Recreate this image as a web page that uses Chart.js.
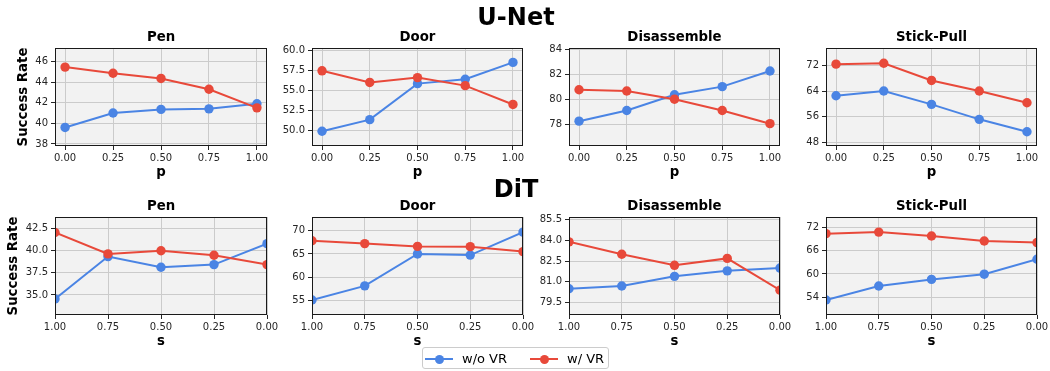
<!DOCTYPE html>
<html>
<head>
<meta charset="utf-8">
<script src="https://cdn.jsdelivr.net/npm/chart.js@4.4.1/dist/chart.umd.min.js"></script>
<style>
  html, body { margin: 0; padding: 0; background: #ffffff; }
  body { width: 1050px; height: 371px; position: relative; overflow: hidden; font-family: "DejaVu Sans", sans-serif; color: #000; }
  canvas { position: absolute; }
  .lbl { position: absolute; white-space: nowrap; transform: translate(-50%, -50%); line-height: 1; }
  .big { font-weight: bold; font-size: 24px; }
  .sub { font-weight: bold; font-size: 13.3px; }
  .ax { font-weight: bold; font-size: 13.3px; }
  .rot { transform: translate(-50%, -50%) rotate(-90deg); }
  #legend { position: absolute; left: 422px; top: 347px; width: 187px; height: 22px; border: 1px solid #cccccc; border-radius: 3px; box-sizing: border-box; background: #fff; }
  .li { position: absolute; top: 0; height: 22px; font-size: 13px; line-height: 22px; }
  .lline { position: absolute; top: 10px; width: 28px; height: 2px; }
  .ldot { position: absolute; top: 6.5px; width: 9px; height: 9px; border-radius: 50%; }
</style>
</head>
<body>
<script>
// ---------------- data ----------------
const tasks = ['Pen', 'Door', 'Disassemble', 'Stick-Pull'];
const seriesNames = ['w/o VR', 'w/ VR'];
const pValues = [0, 0.25, 0.5, 0.75, 1];        // U-Net x values (p)
const sValues = [1, 0.75, 0.5, 0.25, 0];        // DiT x values (s)

// U-Net rows
const unetPenWo   = [39.6, 41.0, 41.35, 41.4, 41.9];
const unetPenW    = [45.45, 44.85, 44.35, 43.3, 41.5];
const unetDoorWo  = [49.9, 51.35, 55.85, 56.4, 58.5];
const unetDoorW   = [57.45, 56.0, 56.6, 55.6, 53.25];
const unetDisWo   = [78.25, 79.1, 80.35, 81.0, 82.25];
const unetDisW    = [80.75, 80.65, 80.0, 79.1, 78.05];
const unetStickWo = [62.6, 64.1, 59.9, 55.2, 51.3];
const unetStickW  = [72.5, 72.8, 67.4, 64.1, 60.4];

// DiT rows
const ditPenWo   = [34.55, 39.3, 38.1, 38.4, 40.75];
const ditPenW    = [42.0, 39.6, 39.95, 39.45, 38.4];
const ditDoorWo  = [55.2, 58.2, 65.0, 64.75, 69.65];
const ditDoorW   = [67.8, 67.2, 66.6, 66.55, 65.5];
const ditDisWo   = [80.5, 80.7, 81.4, 81.8, 82.0];
const ditDisW    = [83.9, 83.0, 82.2, 82.7, 80.4];
const ditStickWo = [53.3, 56.9, 58.6, 59.95, 63.8];
const ditStickW  = [70.4, 70.8, 69.8, 68.5, 68.1];

// tick labels
const xTickLabels = ['0.00', '0.25', '0.50', '0.75', '1.00'];
const unetYTicks = [[38, 40, 42, 44, 46], [50, 52.5, 55, 57.5, 60], [78, 80, 82, 84], [48, 56, 64, 72]];
const unetYDecimals = [0, 1, 0, 0];
const ditYTicks = [[35, 37.5, 40, 42.5], [55, 60, 65, 70], [79.5, 81, 82.5, 84, 85.5], [54, 60, 66, 72]];
const ditYDecimals = [1, 0, 1, 0];

// axis limits
const unetYLim = [[37.8, 47.3], [48.06, 60.3], [76.27, 84.08], [46.84, 77.57]];
const ditYLim = [[32.75, 43.74], [52.0, 72.86], [78.6, 85.7], [49.43, 74.69]];

// ---------------- layout / style ----------------
const BLUE = '#4a84e4';
const RED = '#e8493a';
const colL = [55, 312, 569, 826];
const colR = [267, 523, 780, 1037];
const rowT = [48, 217];
const rowB = [146, 315];
const PADL = 50, PADT = 10, PADR = 14, PADB = 30;

const bgPlugin = {
  id: 'bgframe',
  beforeDraw(chart) {
    const a = chart.chartArea, c = chart.ctx;
    c.save(); c.fillStyle = '#f2f2f2';
    c.fillRect(a.left, a.top, a.right - a.left, a.bottom - a.top);
    c.restore();
  },
  afterDraw(chart) {
    const a = chart.chartArea, c = chart.ctx;
    c.save(); c.strokeStyle = '#1a1a1a'; c.lineWidth = 1;
    c.strokeRect(Math.round(a.left) + 0.5, Math.round(a.top) + 0.5, Math.round(a.right - a.left) - 1 + 0, Math.round(a.bottom - a.top) - 1 + 0);
    c.restore();
  }
};

function addLabel(text, cls, x, y) {
  const d = document.createElement('div');
  d.className = 'lbl ' + cls;
  d.textContent = text;
  d.style.left = x + 'px';
  d.style.top = y + 'px';
  document.body.appendChild(d);
}

function makeChart(row, col, xs, wo, w, ylim, yticks, ydec) {
  const L = colL[col], R = colR[col], T = rowT[row], B = rowB[row];
  const cv = document.createElement('canvas');
  const cw = (R - L) + PADL + PADR, ch = (B - T) + PADT + PADB;
  cv.width = cw; cv.height = ch;
  cv.style.width = cw + 'px'; cv.style.height = ch + 'px';
  cv.style.left = (L - PADL) + 'px'; cv.style.top = (T - PADT) + 'px';
  document.body.appendChild(cv);
  const reversed = row === 1;
  const mk = (arr) => xs.map((x, i) => ({ x: x, y: arr[i] }));
  const ds = (label, arr, color, order) => ({
    label, data: mk(arr), borderColor: color, backgroundColor: color,
    borderWidth: 2, pointRadius: 4.7, pointBorderWidth: 0, pointHoverRadius: 4.7,
    tension: 0, order
  });
  new Chart(cv, {
    type: 'line',
    data: { datasets: [ds(seriesNames[0], wo, BLUE, 2), ds(seriesNames[1], w, RED, 1)] },
    options: {
      responsive: false, animation: false, devicePixelRatio: 1,
      layout: { padding: { left: 0, top: PADT, right: PADR, bottom: 0 } },
      plugins: { legend: { display: false }, tooltip: { enabled: false }, title: { display: false } },
      scales: {
        x: {
          type: 'linear',
          min: reversed ? 0 : -0.0525, max: reversed ? 1 : 1.0525,
          reverse: reversed,
          afterBuildTicks: (s) => { s.ticks = pValues.map(v => ({ value: v })); },
          afterFit: (s) => { s.height = PADB; },
          ticks: {
            autoSkip: false, maxRotation: 0, minRotation: 0, padding: 2,
            color: '#262626', font: { family: 'DejaVu Sans', size: 10 },
            callback: (v) => xTickLabels[pValues.indexOf(v)] ?? v.toFixed(2)
          },
          grid: { color: '#cbcbcb', lineWidth: 1, drawTicks: true, tickLength: 4, tickColor: '#262626', tickWidth: 1 },
          border: { display: false }
        },
        y: {
          type: 'linear', min: ylim[0], max: ylim[1],
          afterBuildTicks: (s) => { s.ticks = yticks.map(v => ({ value: v })); },
          afterFit: (s) => { s.width = PADL; },
          ticks: {
            padding: 3, color: '#262626', font: { family: 'DejaVu Sans', size: 10 },
            callback: (v) => v.toFixed(ydec)
          },
          grid: { color: '#cbcbcb', lineWidth: 1, drawTicks: true, tickLength: 4, tickColor: '#262626', tickWidth: 1 },
          border: { display: false }
        }
      }
    },
    plugins: [bgPlugin]
  });
  const cx = (L + R) / 2;
  addLabel(tasks[col], 'sub', cx, T - 11);
  addLabel(row === 0 ? 'p' : 's', 'ax', cx, B + 26);
}

const unetWo = [unetPenWo, unetDoorWo, unetDisWo, unetStickWo];
const unetW = [unetPenW, unetDoorW, unetDisW, unetStickW];
const ditWo = [ditPenWo, ditDoorWo, ditDisWo, ditStickWo];
const ditW = [ditPenW, ditDoorW, ditDisW, ditStickW];

for (let c = 0; c < 4; c++) {
  makeChart(0, c, pValues, unetWo[c], unetW[c], unetYLim[c], unetYTicks[c], unetYDecimals[c]);
  makeChart(1, c, sValues, ditWo[c], ditW[c], ditYLim[c], ditYTicks[c], ditYDecimals[c]);
}

addLabel('U-Net', 'big', 516, 17);
addLabel('DiT', 'big', 516, 189);
addLabel('Success Rate', 'ax rot', 23, (rowT[0] + rowB[0]) / 2);
addLabel('Success Rate', 'ax rot', 13, (rowT[1] + rowB[1]) / 2);

// legend (HTML)
const lg = document.createElement('div');
lg.id = 'legend';
const items = [[BLUE, seriesNames[0], 2, 39], [RED, seriesNames[1], 107, 144]];
for (const [col, txt, lx, tx] of items) {
  const ln = document.createElement('div'); ln.className = 'lline'; ln.style.left = lx + 'px'; ln.style.background = col; lg.appendChild(ln);
  const dt = document.createElement('div'); dt.className = 'ldot'; dt.style.left = (lx + 9.5) + 'px'; dt.style.background = col; lg.appendChild(dt);
  const t = document.createElement('div'); t.className = 'li'; t.style.left = tx + 'px'; t.textContent = txt; lg.appendChild(t);
}
document.body.appendChild(lg);
</script>
</body>
</html>
